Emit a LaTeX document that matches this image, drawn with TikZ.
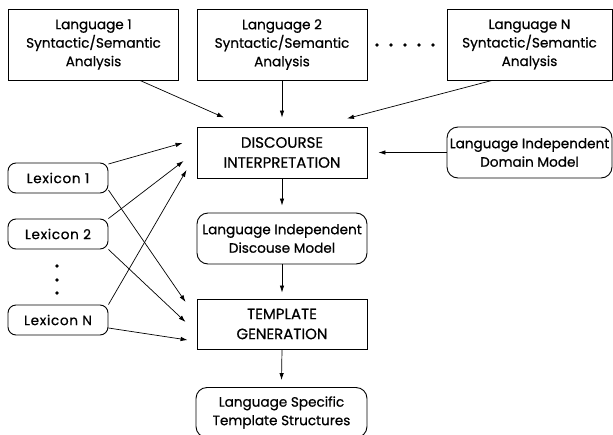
\documentclass[tikz,border=0pt]{standalone}
\usepackage{fontspec}
\setmainfont{Poppins}[FakeBold=0.6]
\usetikzlibrary{arrows.meta,calc}
\begin{document}
\begin{tikzpicture}[x=1pt,y=-1pt,
  txt/.style={font=\fontsize{13.6}{18.5}\selectfont, align=center, inner sep=0pt},
  caps/.style={font=\fontsize{15}{20}\selectfont},
  sqbox/.style={txt, draw, line width=0.9pt, minimum width=#1, minimum height=51pt},
  sqbox/.default=170pt,
  rbox/.style={txt, draw, line width=0.9pt, rounded corners=11pt, minimum width=#1, minimum height=51pt},
  rbox/.default=170pt,
  lexbox/.style={txt, font=\fontsize{13.6}{18.5}\selectfont\addfontfeatures{LetterSpace=5}, draw, line width=0.9pt, rounded corners=8pt, minimum width=100pt, minimum height=30pt},
  arr/.style={-{Latex[length=7pt,width=4.5pt]}, line width=0.7pt},
  dot/.style={fill, circle, inner sep=0pt, minimum size=3.8pt}
]
\useasboundingbox (0,0) rectangle (613,434);

% top analysis boxes
\node[sqbox, minimum height=71pt] (l1) at (93.5,44.5) {Language 1\\Syntactic/Semantic\\Analysis};
\node[sqbox, minimum height=71pt] (l2) at (282,44.5) {Language 2\\Syntactic/Semantic\\Analysis};
\node[sqbox=165pt, minimum height=71pt] (ln) at (529.5,44.5) {Language N\\Syntactic/Semantic\\Analysis};
\foreach \i/\x in {1/377,2/391,3/405,4/419,5/433}
  \node[dot] (hd\i) at (\x,45) {};

% central column
\node[sqbox, caps] (di) at (282,152.5) {DISCOURSE\\INTERPRETATION};
\node[rbox=165pt] (dm) at (529.5,152.5) {Language Independent\\Domain Model};
\node[rbox] (dsm) at (282,238.5) {Language Independent\\Discouse Model};
\node[sqbox, caps, minimum height=50pt] (tg) at (282,324) {TEMPLATE\\GENERATION};
\node[rbox=171pt, minimum height=50pt] (ts) at (281.5,412.5) {Language Specific\\Template Structures};

% lexicons
\node[lexbox] (x1) at (58,178) {Lexicon 1};
\node[lexbox] (x2) at (58,234) {Lexicon 2};
\node[lexbox] (xn) at (58,320) {Lexicon N};
\foreach \i/\y in {1/266,2/280,3/293}
  \node[dot] (vd\i) at (57,\y) {};

% connectors to discourse interpretation
\draw[arr] ($(l1.south)+(46.5,0)$) -- ($(di.north)+(-58,-9)$);
\draw[arr] (l2.south) -- ($(di.north)+(0,-9)$);
\draw[arr] ($(ln.south)+(-37.5,0)$) -- ($(di.north)+(65,-8)$);
\draw[arr] (dm.west) -- ($(di.east)+(11,0)$);
\draw[arr] ($(x1.east)+(0,-14)$) -- ($(di.west)+(-14,-9.5)$);
\draw[arr] (x2.north east) -- ($(di.west)+(-13,8.5)$);
\draw[arr] (xn.north east) -- ($(di.west)+(-10,17.5)$);

% connectors to template generation
\draw[arr] ($(x1.east)+(0,12)$) -- ($(tg.west)+(-11,-22)$);
\draw[arr] (x2.south east) -- ($(tg.west)+(-11,-2)$);
\draw[arr] ($(xn.east)+(0,8)$) -- ($(tg.west)+(-9,16)$);

% vertical chain
\draw[arr] (di.south) -- ($(dsm.north)+(0,-7)$);
\draw[arr] (dsm.south) -- ($(tg.north)+(0,-6)$);
\draw[arr] (tg.south) -- ($(ts.north)+(0,-7)$);
\end{tikzpicture}
\end{document}
